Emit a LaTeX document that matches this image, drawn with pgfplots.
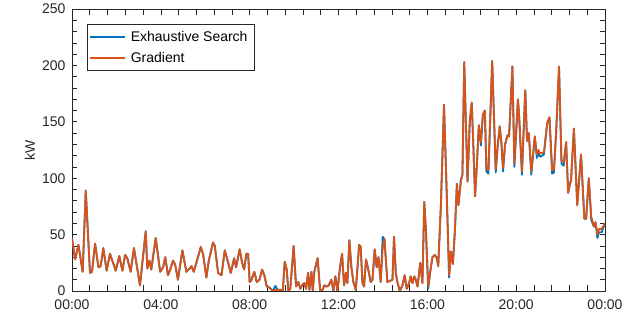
\documentclass[border=0pt]{standalone}
\usepackage{pgfplots}
\pgfplotsset{compat=1.18}
\usepackage{fontspec}
\setmainfont{Liberation Sans}
\definecolor{mblue}{rgb}{0,0.447,0.741}
\definecolor{morange}{rgb}{0.85,0.325,0.098}
\definecolor{axgray}{rgb}{0.15,0.15,0.15}
\newcommand{\lblfont}{\fontsize{14bp}{16bp}\selectfont}

\pgfplotstableread{
t v
0.00 47
0.14 28
0.29 41
0.48 17
0.62 89
0.81 16
0.90 17
1.04 42
1.19 21
1.29 22
1.41 38
1.56 18
1.71 33
1.97 18
2.13 31
2.27 18
2.39 32
2.49 29
2.64 17
2.79 38
3.06 5
3.32 53
3.39 20
3.48 27
3.57 19
3.77 47
3.97 17
4.10 21
4.20 30
4.32 14
4.44 20
4.55 27
4.65 23
4.77 10
4.97 36
5.15 17
5.30 20
5.38 22
5.48 17
5.60 25
5.80 39
5.90 33
6.05 12
6.16 27
6.35 43
6.43 40
6.58 16
6.73 14
6.88 36
7.02 26
7.15 16
7.30 29
7.39 21
7.55 37
7.66 25
7.75 19
7.85 33
7.93 33
8.00 8
8.06 9
8.21 17
8.32 8
8.44 10
8.56 19
8.66 14
8.77 4
8.89 3
9.04 0
9.16 1
9.26 1
9.41 1
9.49 0
9.58 26
9.67 19
9.74 0
9.83 2
9.98 40
10.09 4
10.19 8
10.28 2
10.36 5
10.46 7
10.54 2
10.63 16
10.69 1
10.78 17
10.84 0
10.91 17
11.06 29
11.17 1
11.26 0
11.36 5
11.47 4
11.56 5
11.68 10
11.77 0
11.86 13
11.95 0
12.07 21
12.16 33
12.25 5
12.33 16
12.40 7
12.49 45
12.58 21
12.67 8
12.78 1
12.93 41
13.00 39
13.08 7
13.15 4
13.24 28
13.33 20
13.45 8
13.53 10
13.63 37
13.72 21
13.80 30
13.90 8
13.99 38
14.07 46
14.20 8
14.32 9
14.43 10
14.50 48
14.58 16
14.65 8
14.76 0
14.88 5
14.98 14
15.07 2
15.18 7
15.25 13
15.33 7
15.41 13
15.48 10
15.56 4
15.68 25
15.78 7
15.86 79
15.93 56
16.04 4
16.13 17
16.23 30
16.34 32
16.43 29
16.49 22
16.61 76
16.75 165
16.88 82
16.98 14
17.06 35
17.15 24
17.24 53
17.33 95
17.40 76
17.51 98
17.58 103
17.66 203
17.81 97
17.91 150
18.00 167
18.06 135
18.15 84
18.23 112
18.32 147
18.41 132
18.50 156
18.59 160
18.66 109
18.75 107
18.92 204
19.08 108
19.16 127
19.26 146
19.34 130
19.41 109
19.50 130
19.61 138
19.68 137
19.83 199
19.92 113
20.08 170
20.13 156
20.26 106
20.41 178
20.49 133
20.57 140
20.68 106
20.84 137
20.93 121
21.00 125
21.08 122
21.25 123
21.40 149
21.50 154
21.62 107
21.70 108
21.80 141
21.93 199
22.04 116
22.14 114
22.25 132
22.34 87
22.42 95
22.47 98
22.60 144
22.75 76
22.92 121
23.07 64
23.15 64
23.27 100
23.38 66
23.50 57
23.57 61
23.66 50
23.73 55
23.85 55
24.00 60
}\gradtab

\pgfplotstableread{
t v
0.00 47
0.14 28
0.29 41
0.48 17
0.62 89
0.81 16
0.90 17
1.04 42
1.19 21
1.29 22
1.41 38
1.56 18
1.71 33
1.97 18
2.13 31
2.27 18
2.39 32
2.49 29
2.64 17
2.79 38
3.06 5
3.32 53
3.39 20
3.48 27
3.57 19
3.77 47
3.97 17
4.10 21
4.20 30
4.32 14
4.44 20
4.55 27
4.65 23
4.77 10
4.97 36
5.15 17
5.30 20
5.38 22
5.48 17
5.60 25
5.80 39
5.90 33
6.05 12
6.16 27
6.35 43
6.43 40
6.58 16
6.73 14
6.88 36
7.02 26
7.15 16
7.30 29
7.39 21
7.55 37
7.66 25
7.75 19
7.85 33
7.93 33
8.00 8
8.06 9
8.21 17
8.32 8
8.44 10
8.56 19
8.66 14
8.77 4
8.89 3
9.04 0
9.16 4.5
9.26 1
9.41 1
9.49 0
9.58 26
9.67 19
9.74 0
9.83 2
9.98 40
10.09 4
10.19 8
10.28 2
10.36 5
10.46 7
10.54 2
10.63 16
10.69 1
10.78 17
10.84 0
10.91 17
11.06 29
11.17 1
11.26 0
11.36 5
11.47 4
11.56 5
11.68 10
11.77 0
11.86 13
11.95 0
12.07 21
12.16 33
12.25 5
12.33 16
12.40 7
12.49 45
12.58 21
12.67 8
12.78 1
12.93 41
13.00 39
13.08 7
13.15 4
13.24 28
13.33 20
13.45 8
13.53 10
13.63 37
13.72 21
13.80 30
13.90 8
13.99 48
14.07 46
14.20 8
14.32 9
14.43 10
14.50 48
14.58 16
14.65 8
14.76 0
14.88 5
14.98 14
15.07 2
15.18 7
15.25 13
15.33 7
15.41 13
15.48 10
15.56 4
15.68 25
15.78 7
15.86 79
15.93 56
16.04 2
16.13 17
16.23 30
16.34 32
16.43 29
16.49 22
16.61 76
16.75 165
16.88 82
16.98 12
17.06 35
17.15 24
17.24 53
17.33 95
17.40 76
17.51 98
17.58 103
17.66 203
17.81 97
17.91 150
18.00 167
18.06 135
18.15 84
18.23 112
18.32 147
18.41 129
18.50 156
18.59 160
18.66 106
18.75 104
18.92 204
19.08 105
19.16 127
19.26 146
19.34 130
19.41 106
19.50 130
19.61 138
19.68 137
19.83 199
19.92 110
20.08 170
20.13 156
20.26 103
20.41 178
20.49 133
20.57 140
20.68 103
20.84 137
20.93 118
21.00 122
21.08 119
21.25 121
21.40 149
21.50 154
21.62 104
21.70 105
21.80 141
21.93 199
22.04 113
22.14 111
22.25 132
22.34 87
22.42 95
22.47 98
22.60 144
22.75 76
22.92 121
23.07 64
23.15 64
23.27 100
23.38 63
23.50 57
23.57 61
23.66 47
23.73 52
23.85 52
24.00 60
}\exhtab

\begin{document}
\begin{tikzpicture}
\useasboundingbox (0,0) rectangle (644bp,324bp);
\begin{axis}[
  at={(72bp,33bp)}, anchor=south west,
  scale only axis, width=533bp, height=282bp,
  xmin=0, xmax=24, ymin=0, ymax=250,
  xtick={0,4,8,12,16,20,24},
  xticklabels={00:00,04:00,08:00,12:00,16:00,20:00,00:00},
  minor x tick num=4,
  ytick={0,50,100,150,200,250},
  yticklabels={0,50,100,150,200,250},
  minor y tick num=4,
  tick align=inside,
  major tick length=5.5bp, minor tick length=5.5bp,
  axis line style={axgray, line width=0.6bp},
  every tick/.style={axgray, line width=0.6bp},
  every tick label/.append style={font=\lblfont, text=axgray},
  xticklabel style={yshift=-5bp},
  yticklabel style={xshift=-3bp},
  ylabel={kW},
  ylabel style={at={(axis description cs:-0.079,0.5)}, anchor=center, rotate=0, font=\lblfont, text=axgray},
  legend cell align=left,
  legend style={at={(0.0276,0.947)}, anchor=north west, draw=axgray, line width=0.6bp,
    font=\lblfont, text=black, inner xsep=2bp, inner ysep=5bp, row sep=5bp,
    nodes={inner xsep=5bp}},
  legend image code/.code={\draw[#1, line width=1.8bp] (2bp,0bp) -- (37bp,0bp);},
]
\addplot[mblue, line width=1.8bp, line join=round] table[x=t, y=v] {\exhtab};
\addlegendentry{Exhaustive Search}
\addplot[morange, line width=1.8bp, line join=round] table[x=t, y=v] {\gradtab};
\addlegendentry{Gradient}
\end{axis}
\end{tikzpicture}
\end{document}
